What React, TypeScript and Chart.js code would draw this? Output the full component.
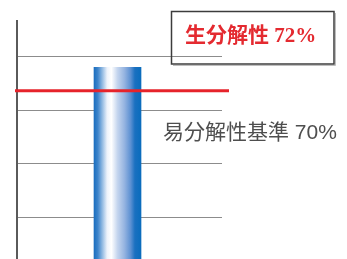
import { useEffect, useRef } from "react";
import { Chart, registerables } from "chart.js";

Chart.register(...registerables);

const categories = ["生分解性"];
const biodegradability = [72];
const standardValue = 70;
const gridValues = [59.1, 63.7, 68.3, 72.9];
const yMin = 55.5;
const yMax = 76;
const titleLabel = "生分解性 72%";
const standardLabel = "易分解性基準 70%";

const overlay = {
  id: "overlay",
  afterDraw(chart: any) {
    const { ctx, chartArea, scales } = chart;
    const y = scales.y.getPixelForValue(standardValue);
    ctx.save();
    ctx.strokeStyle = "#e6232b";
    ctx.lineWidth = 3;
    ctx.beginPath();
    ctx.moveTo(chartArea.left - 2, y);
    ctx.lineTo(chartArea.right + 7, y);
    ctx.stroke();

    ctx.strokeStyle = "#bdbdbd";
    ctx.lineWidth = 1;
    ctx.beginPath();
    ctx.moveTo(335.5, 13);
    ctx.lineTo(335.5, 65.5);
    ctx.lineTo(173, 65.5);
    ctx.stroke();
    ctx.strokeStyle = "#3c3c3c";
    ctx.lineWidth = 1.5;
    ctx.strokeRect(171.5, 11.5, 162.5, 52.5);

    ctx.textBaseline = "middle";
    ctx.textAlign = "left";
    ctx.fillStyle = "#e42a30";
    ctx.font = "bold 21px 'Liberation Serif', 'Noto Sans CJK JP'";
    ctx.fillText(titleLabel, 185, 37);
    ctx.fillStyle = "#4e4e4e";
    ctx.font = "21px 'Liberation Sans', 'Noto Sans CJK JP'";
    ctx.fillText(standardLabel, 163, 133);
    ctx.restore();
  },
};

export default function App() {
  const ref = useRef<HTMLCanvasElement>(null);
  useEffect(() => {
    if (!ref.current) return;
    const chart = new Chart(ref.current, {
      type: "bar",
      data: {
        datasets: [
          {
            label: categories[0],
            data: categories.map((_, i) => ({ x: i, y: biodegradability[i] })),
            barThickness: 47,
            borderWidth: 0,
            backgroundColor: (c: any) => {
              const ch = c.chart;
              const xs = ch.scales?.x;
              if (!xs || !ch.chartArea) return "#1a70c0";
              const cx = xs.getPixelForValue(c.dataIndex ?? 0);
              const g = ch.ctx.createLinearGradient(cx - 23.5, 0, cx + 23.5, 0);
              g.addColorStop(0, "#1b6ebf");
              g.addColorStop(0.08, "#3c84cb");
              g.addColorStop(0.28, "#eef3fb");
              g.addColorStop(0.37, "#ffffff");
              g.addColorStop(0.5, "#c4d5ee");
              g.addColorStop(0.65, "#94b3e0");
              g.addColorStop(0.78, "#5c90d2");
              g.addColorStop(0.87, "#1a70c0");
              g.addColorStop(1, "#0a6cbd");
              return g;
            },
          },
        ],
      },
      options: {
        responsive: false,
        animation: false,
        devicePixelRatio: 1,
        layout: { padding: { left: 17, top: 21, right: 125, bottom: 0 } },
        plugins: { legend: { display: false }, tooltip: { enabled: false } },
        scales: {
          x: { type: "linear", display: false, min: -0.4854, max: 0.5146 },
          y: {
            z: 1,
            min: yMin,
            max: yMax,
            afterBuildTicks: (s: any) => {
              s.ticks = gridValues.map((v) => ({ value: v }));
            },
            ticks: { display: false, padding: 0 },
            grid: { color: "#8c8c8c", lineWidth: 1, drawTicks: false },
            border: { display: true, color: "#5a5a5a", width: 2 },
          },
        },
      },
      plugins: [overlay],
    });
    return () => chart.destroy();
  }, []);
  return (
    <div style={{ position: "absolute", left: 0, top: 0, width: 347, height: 259, overflow: "hidden", background: "#fff" }}>
      <canvas ref={ref} width={347} height={259} style={{ display: "block" }} />
    </div>
  );
}
